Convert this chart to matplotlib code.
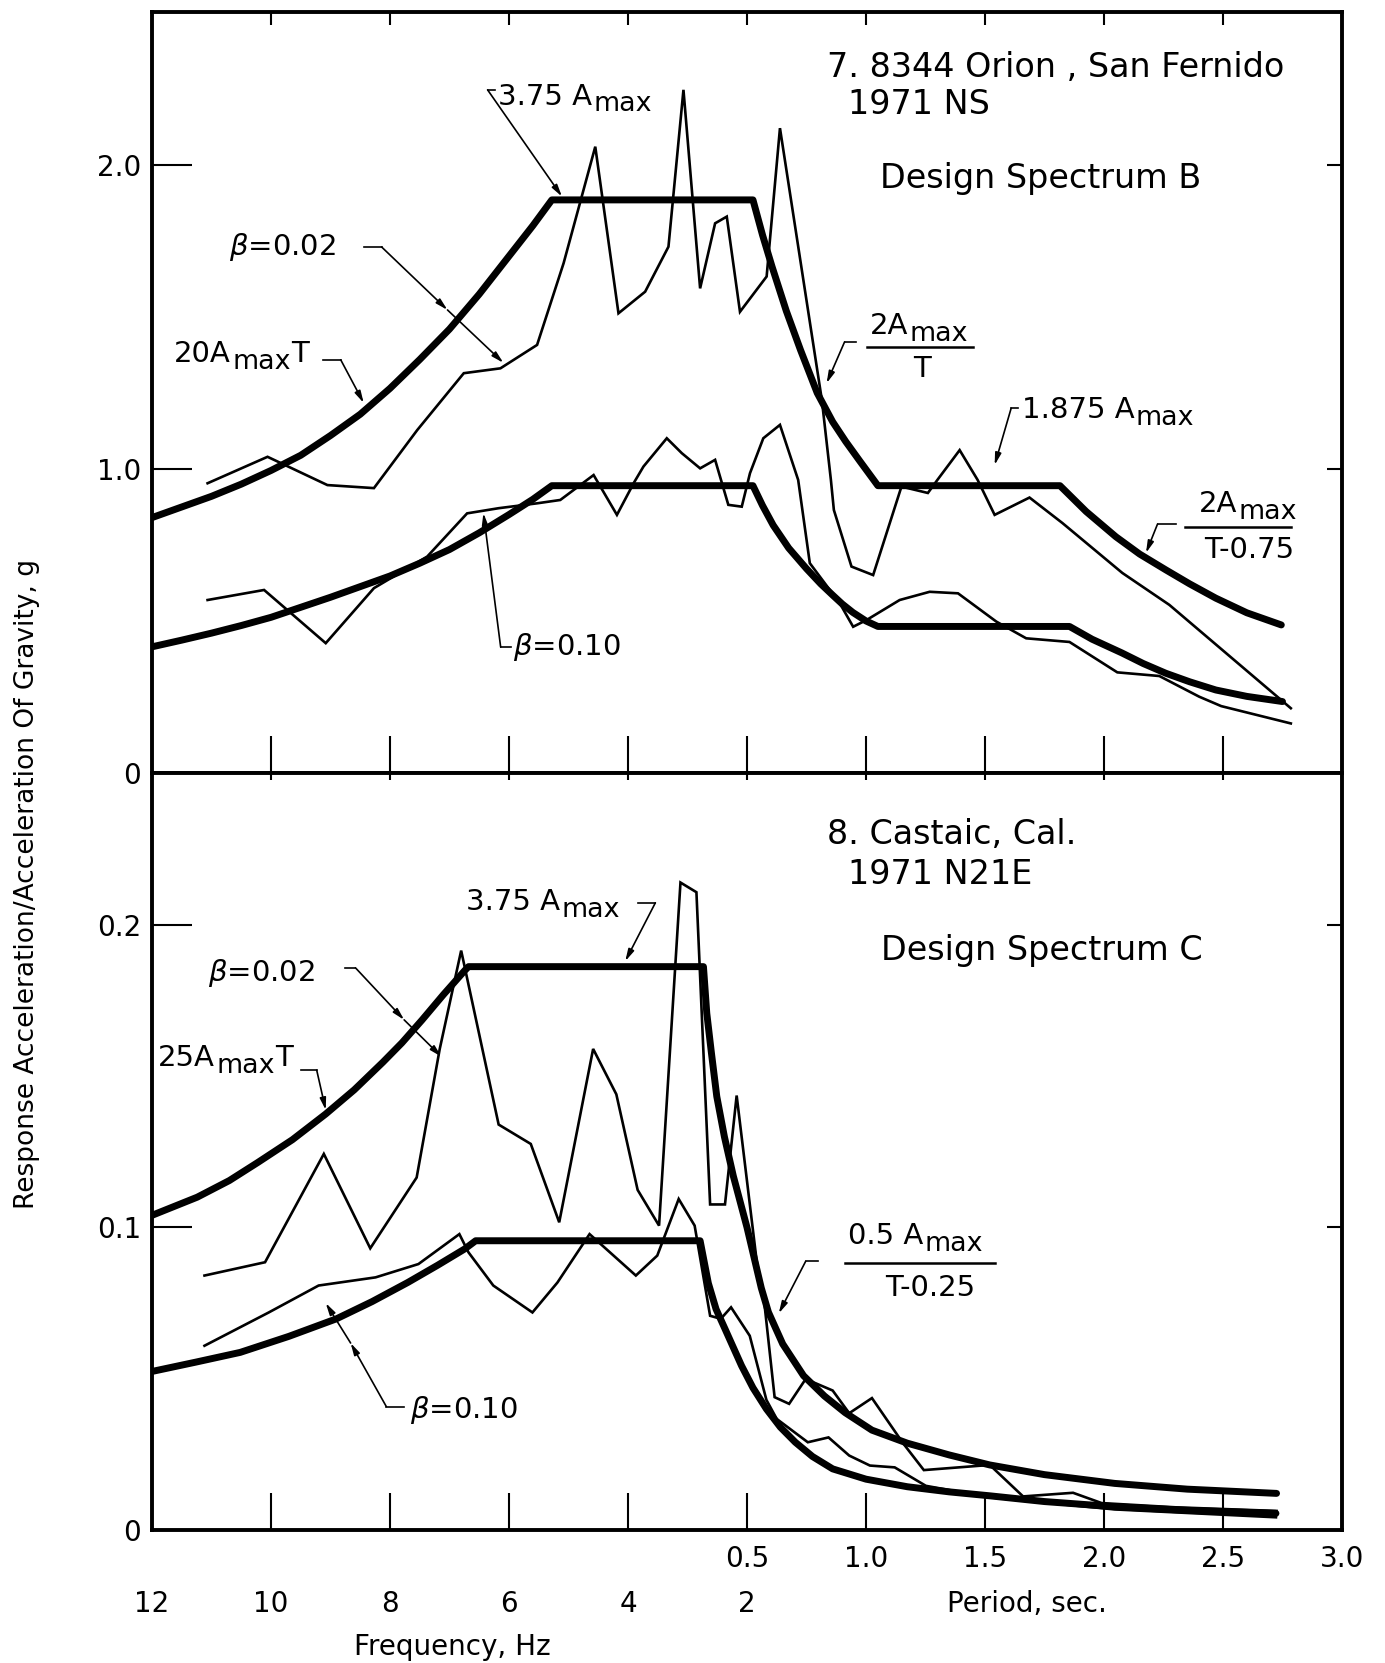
import matplotlib
matplotlib.use("Agg")
import matplotlib.pyplot as plt
from matplotlib.transforms import blended_transform_factory

W, H, DPI = 1385, 1663, 100
plt.rcParams['font.family'] = ['DejaVu Sans']
plt.rcParams['mathtext.fontset'] = 'dejavusans'

# ---- composite x axis: positions 0..5 = frequency 12 -> 2 Hz, 5..10 = period 0.5 -> 3.0 s
freq_labels = ["12", "10", "8", "6", "4", "2"]
freq_pos = [0, 1, 2, 3, 4, 5]
period_labels = ["0.5", "1.0", "1.5", "2.0", "2.5", "3.0"]
period_pos = [5, 6, 7, 8, 9, 10]
inner_ticks = [1, 2, 3, 4, 5, 6, 7, 8, 9]

# ---- Panel 7 (Orion, San Fernando) - Design Spectrum B
b_design_hi_x = [0, 0.25, 0.5, 0.75, 1.0, 1.25, 1.5, 1.75, 2.0, 2.25, 2.5, 2.75, 3.0, 3.2, 3.36,
                 5.05, 5.13, 5.21, 5.33, 5.45, 5.59, 5.72, 5.83, 5.95, 6.1,
                 7.63, 7.85, 8.10, 8.30, 8.52, 8.72, 8.94, 9.2, 9.49]
b_design_hi_y = [0.84, 0.875, 0.91, 0.95, 0.995, 1.045, 1.11, 1.18, 1.265, 1.36, 1.46, 1.575, 1.70, 1.80,
                 1.885,
                 1.885, 1.77, 1.666, 1.52, 1.391, 1.25, 1.155, 1.09, 1.025, 0.945,
                 0.945, 0.86, 0.777, 0.72, 0.668, 0.622, 0.575, 0.527, 0.487]
b_design_lo_x = [0, 0.25, 0.5, 0.75, 1.0, 1.25, 1.5, 1.75, 2.0, 2.25, 2.5, 2.75, 3.0, 3.2, 3.36,
                 5.05, 5.13, 5.22, 5.35, 5.50, 5.62, 5.72, 5.80, 5.89, 6.0, 6.1,
                 7.71, 7.9, 8.15, 8.33, 8.52, 8.72, 8.94, 9.2, 9.50]
b_design_lo_y = [0.415, 0.437, 0.46, 0.485, 0.512, 0.545, 0.578, 0.613, 0.648, 0.69, 0.735, 0.79, 0.85,
                 0.90, 0.945,
                 0.945, 0.88, 0.815, 0.74, 0.672, 0.622, 0.585, 0.556, 0.528, 0.50, 0.482,
                 0.482, 0.44, 0.395, 0.36, 0.328, 0.30, 0.273, 0.252, 0.235]
b_resp02_x = [0.467, 0.971, 1.474, 1.865, 2.229, 2.620, 2.928, 3.236, 3.459, 3.725, 3.920, 4.144, 4.340,
              4.466, 4.606, 4.732, 4.830, 4.941, 5.165, 5.277, 5.629, 5.705, 5.730, 5.878, 6.060, 6.298,
              6.52, 6.60, 6.787, 6.938, 7.081, 7.374, 7.651, 8.154, 8.549, 9.570]
b_resp02_y = [0.953, 1.040, 0.947, 0.937, 1.128, 1.315, 1.331, 1.408, 1.677, 2.060, 1.512, 1.583, 1.731,
              2.247, 1.594, 1.808, 1.830, 1.517, 1.633, 2.121, 1.227, 0.964, 0.865, 0.679, 0.651, 0.942,
              0.921, 0.964, 1.062, 0.964, 0.849, 0.906, 0.822, 0.658, 0.553, 0.213]
b_resp10_x = [0.467, 0.942, 1.460, 1.865, 2.313, 2.648, 2.914, 3.236, 3.431, 3.711, 3.907, 4.05, 4.13,
              4.326, 4.452, 4.606, 4.732, 4.843, 4.956, 5.025, 5.137, 5.277, 5.430, 5.528, 5.78, 5.892,
              6.004, 6.283, 6.535, 6.773, 7.095, 7.346, 7.710, 8.112, 8.465, 8.80, 8.985, 9.570]
b_resp10_y = [0.569, 0.602, 0.427, 0.608, 0.712, 0.854, 0.871, 0.887, 0.898, 0.980, 0.849, 0.955, 1.008,
              1.101, 1.052, 1.002, 1.030, 0.882, 0.876, 0.986, 1.101, 1.145, 0.964, 0.690, 0.558, 0.481,
              0.503, 0.569, 0.596, 0.591, 0.498, 0.443, 0.431, 0.331, 0.319, 0.251, 0.220, 0.163]

# ---- Panel 8 (Castaic) - Design Spectrum C
c_design_hi_x = [0, 0.38, 0.65, 0.89, 1.18, 1.46, 1.7, 1.94, 2.1, 2.27, 2.45, 2.63, 2.66,
                 4.634, 4.662, 4.70, 4.746, 4.81, 4.885, 5.0, 5.06, 5.12, 5.18, 5.3, 5.475, 5.65, 5.824,
                 6.05, 6.347, 6.7, 7.04, 7.5, 8.09, 8.7, 9.45]
c_design_hi_y = [0.104, 0.110, 0.1155, 0.1215, 0.129, 0.1375, 0.1455, 0.1546, 0.161, 0.1686, 0.177, 0.185,
                 0.1862, 0.1862, 0.1708, 0.158, 0.1433, 0.130, 0.117, 0.100, 0.090, 0.080, 0.072, 0.0615,
                 0.051, 0.0443, 0.0388, 0.033, 0.0287, 0.0248, 0.0215, 0.0183, 0.0154, 0.0135, 0.0121]
c_design_lo_x = [0, 0.37, 0.741, 1.15, 1.55, 1.85, 2.149, 2.4, 2.628, 2.72, 4.606, 4.675, 4.74, 4.816,
                 4.954, 5.05, 5.163, 5.28, 5.406, 5.55, 5.72, 6.0, 6.347, 6.7, 7.04, 7.5, 8.087, 8.7, 9.445]
c_design_lo_y = [0.0524, 0.0555, 0.0587, 0.064, 0.0698, 0.0755, 0.0818, 0.0875, 0.0929, 0.0956, 0.0956,
                 0.0816, 0.073, 0.0664, 0.0543, 0.047, 0.040, 0.034, 0.029, 0.0243, 0.0202, 0.0168,
                 0.0143, 0.0126, 0.0113, 0.0094, 0.0077, 0.0065, 0.0055]
c_resp02_x = [0.441, 0.950, 1.444, 1.834, 2.224, 2.418, 2.598, 2.913, 3.183, 3.422, 3.707, 3.902, 4.081,
              4.261, 4.441, 4.575, 4.69, 4.815, 4.913, 5.081, 5.145, 5.232, 5.354, 5.493, 5.72, 5.859,
              6.05, 6.311, 6.486, 7.04, 7.32, 7.74, 7.98, 8.6, 9.45]
c_resp02_y = [0.0841, 0.0885, 0.1243, 0.0931, 0.1165, 0.159, 0.1915, 0.134, 0.1276, 0.1017, 0.159, 0.144,
              0.1124, 0.1006, 0.214, 0.2108, 0.1076, 0.1076, 0.1436, 0.089, 0.0753, 0.0439, 0.0417,
              0.0499, 0.0461, 0.0386, 0.0436, 0.0287, 0.0198, 0.0215, 0.0111, 0.0123, 0.0089, 0.0075,
              0.0063]
c_resp10_x = [0.441, 0.981, 1.40, 1.879, 2.239, 2.583, 2.659, 2.868, 3.197, 3.407, 3.677, 4.066, 4.246,
              4.426, 4.56, 4.69, 4.78, 4.866, 5.023, 5.163, 5.25, 5.511, 5.685, 5.859, 6.033, 6.241,
              6.503, 7.04, 8.09, 9.445]
c_resp10_y = [0.0609, 0.0719, 0.0808, 0.0835, 0.0879, 0.0978, 0.0918, 0.0808, 0.0719, 0.0818, 0.0978,
              0.0841, 0.0907, 0.1094, 0.1006, 0.0708, 0.0698, 0.0736, 0.0642, 0.043, 0.0367, 0.029,
              0.0306, 0.0246, 0.0213, 0.0207, 0.0146, 0.0108, 0.0068, 0.0042]

THICK, THIN, FRAME = 5.0, 1.9, 2.8
ANN = 21
TXT = 24

fig = plt.figure(figsize=(W / DPI, H / DPI), dpi=DPI)
L, R = 152 / W, 1342 / W
ax1 = fig.add_axes([L, 1 - 773 / H, R - L, (773 - 12) / H])
ax2 = fig.add_axes([L, 1 - 1530 / H, R - L, (1530 - 773) / H])

def style(ax, ymax, yt, ytl, top_len):
    ax.set_xlim(0, 10)
    ax.set_ylim(0, ymax)
    for s in ax.spines.values():
        s.set_linewidth(FRAME)
    ax.xaxis.remove_overlapping_locs = False
    ax.yaxis.remove_overlapping_locs = False
    ax.set_xticks(inner_ticks)
    ax.set_xticks(inner_ticks, minor=True)
    ax.tick_params(axis='x', which='major', direction='in', length=27, width=1.5,
                   bottom=True, top=False, labelbottom=False)
    ax.tick_params(axis='x', which='minor', direction='in', length=top_len, width=1.5,
                   bottom=False, top=True, labelbottom=False)
    ax.set_yticks(yt)
    ax.set_yticklabels(ytl)
    ax.set_yticks(yt[1:], minor=True)
    ax.tick_params(axis='y', which='major', direction='in', length=29, width=1.5,
                   left=True, right=False, labelsize=20, pad=8)
    ax.tick_params(axis='y', which='minor', direction='in', length=11, width=1.5,
                   left=False, right=True)

style(ax1, 2.503, [0, 1.0, 2.0], ["0", "1.0", "2.0"], 9)
style(ax2, 0.2502, [0, 0.1, 0.2], ["0", "0.1", "0.2"], 5)

for ax, dh, dl, r2, r1 in [
    (ax1, (b_design_hi_x, b_design_hi_y), (b_design_lo_x, b_design_lo_y),
     (b_resp02_x, b_resp02_y), (b_resp10_x, b_resp10_y)),
    (ax2, (c_design_hi_x, c_design_hi_y), (c_design_lo_x, c_design_lo_y),
     (c_resp02_x, c_resp02_y), (c_resp10_x, c_resp10_y))]:
    ax.plot(*r2, color='k', lw=THIN, solid_joinstyle='miter')
    ax.plot(*r1, color='k', lw=THIN, solid_joinstyle='miter')
    ax.plot(*dh, color='k', lw=THICK, solid_capstyle='round', solid_joinstyle='round')
    ax.plot(*dl, color='k', lw=THICK, solid_capstyle='round', solid_joinstyle='round')

AP = dict(arrowstyle='-|>,head_length=0.7,head_width=0.18', color='k', lw=1.2, shrinkA=0, shrinkB=0)

def leader(ax, pts, heads=()):
    xs = [p[0] for p in pts]
    ys = [p[1] for p in pts]
    ax.plot(xs[:-1], ys[:-1], color='k', lw=1.2, clip_on=False)
    prev = pts[-2]
    for h in list(heads) + [pts[-1]]:
        ax.annotate('', xy=h, xytext=prev, arrowprops=AP)
        prev = h

def amax(ax, x, y, pre, post="", size=ANN, ha='left'):
    """pre + 'A' with a lowered, same-size 'max' and optional trailing text"""
    t1 = ax.text(x, y, pre + "A", fontsize=size, ha=ha, va='center')
    t2 = ax.annotate("max", xy=(1, 0), xycoords=t1, xytext=(1, -5), textcoords='offset points',
                     fontsize=size * 0.92, ha='left', va='bottom')
    if post:
        ax.annotate(post, xy=(1, 0), xycoords=t2, xytext=(0, 5), textcoords='offset points',
                    fontsize=size, ha='left', va='bottom')
    return t1

def bar(ax, x0, x1, y):
    ax.plot([x0, x1], [y, y], color='k', lw=1.8)

# ---- Panel 7 annotations
ax1.text(5.67, 2.32, "7. 8344 Orion , San Fernido", fontsize=TXT, ha='left', va='center')
ax1.text(5.85, 2.20, "1971 NS", fontsize=TXT, ha='left', va='center')
ax1.text(6.12, 1.957, "Design Spectrum B", fontsize=TXT, ha='left', va='center')
amax(ax1, 2.91, 2.225, "3.75 ")
leader(ax1, [(2.88, 2.247), (2.82, 2.247), (3.445, 1.896)])
ax1.text(0.646, 1.73, r"$\beta$=0.02", fontsize=ANN, ha='left', va='center')
leader(ax1, [(1.78, 1.73), (1.93, 1.73), (2.953, 1.349)], heads=[(2.483, 1.523)])
amax(ax1, 0.185, 1.378, "20", post="T")
leader(ax1, [(1.44, 1.359), (1.586, 1.359), (1.779, 1.217)])
amax(ax1, 6.03, 1.47, "2")
bar(ax1, 6.01, 6.90, 1.401)
ax1.text(6.47, 1.33, "T", fontsize=ANN, ha='center', va='center')
leader(ax1, [(5.92, 1.418), (5.82, 1.418), (5.669, 1.282)])
amax(ax1, 7.31, 1.194, "1.875 ")
leader(ax1, [(7.28, 1.200), (7.22, 1.200), (7.081, 1.013)])
amax(ax1, 8.80, 0.885, "2")
bar(ax1, 8.68, 9.57, 0.809)
ax1.text(9.22, 0.734, "T-0.75", fontsize=ANN, ha='center', va='center')
leader(ax1, [(8.605, 0.819), (8.45, 0.819), (8.353, 0.724)])
ax1.text(3.03, 0.414, r"$\beta$=0.10", fontsize=ANN, ha='left', va='center')
leader(ax1, [(3.02, 0.414), (2.93, 0.414), (2.785, 0.855)])

# ---- Panel 8 annotations
ax2.text(5.67, 0.2298, "8. Castaic, Cal.", fontsize=TXT, ha='left', va='center')
ax2.text(5.85, 0.2165, "1971 N21E", fontsize=TXT, ha='left', va='center')
ax2.text(6.13, 0.1914, "Design Spectrum C", fontsize=TXT, ha='left', va='center')
amax(ax2, 2.64, 0.2075, "3.75 ")
leader(ax2, [(4.08, 0.2073), (4.23, 0.2073), (3.977, 0.188)])
ax2.text(0.47, 0.184, r"$\beta$=0.02", fontsize=ANN, ha='left', va='center')
leader(ax2, [(1.62, 0.1858), (1.71, 0.1858), (2.433, 0.1564)], heads=[(2.119, 0.1686)])
amax(ax2, 0.05, 0.156, "25", post="T")
leader(ax2, [(1.25, 0.152), (1.384, 0.152), (1.46, 0.1388)])
ax2.text(2.164, 0.0397, r"$\beta$=0.10", fontsize=ANN, ha='left', va='center')
leader(ax2, [(2.12, 0.0408), (1.969, 0.0408), (1.46, 0.075)], heads=[(1.669, 0.0618)])
amax(ax2, 5.85, 0.0972, "0.5 ")
bar(ax2, 5.82, 7.08, 0.0883)
ax2.text(6.54, 0.080, "T-0.25", fontsize=ANN, ha='center', va='center')
leader(ax2, [(5.596, 0.0888), (5.493, 0.0888), (5.267, 0.0716)])

# ---- x tick labels (two rows) and axis titles
tr = blended_transform_factory(ax2.transData, ax2.transAxes)
for p, lab in zip(period_pos, period_labels):
    ax2.text(p, -0.0383, lab, transform=tr, fontsize=20, ha='center', va='center')
for p, lab in zip(freq_pos, freq_labels):
    ax2.text(p, -0.0978, lab, transform=tr, fontsize=20, ha='center', va='center')
ax2.text(7.35, -0.0978, "Period, sec.", transform=tr, fontsize=20, ha='center', va='center')
ax2.text(2.52, -0.1546, "Frequency, Hz", transform=tr, fontsize=20, ha='center', va='center')

fig.text(27 / W, 1 - 1209 / H, "Response Acceleration/Acceleration Of Gravity, g",
         rotation=90, fontsize=19, ha='center', va='bottom')

fig.savefig("out.png", dpi=DPI)
